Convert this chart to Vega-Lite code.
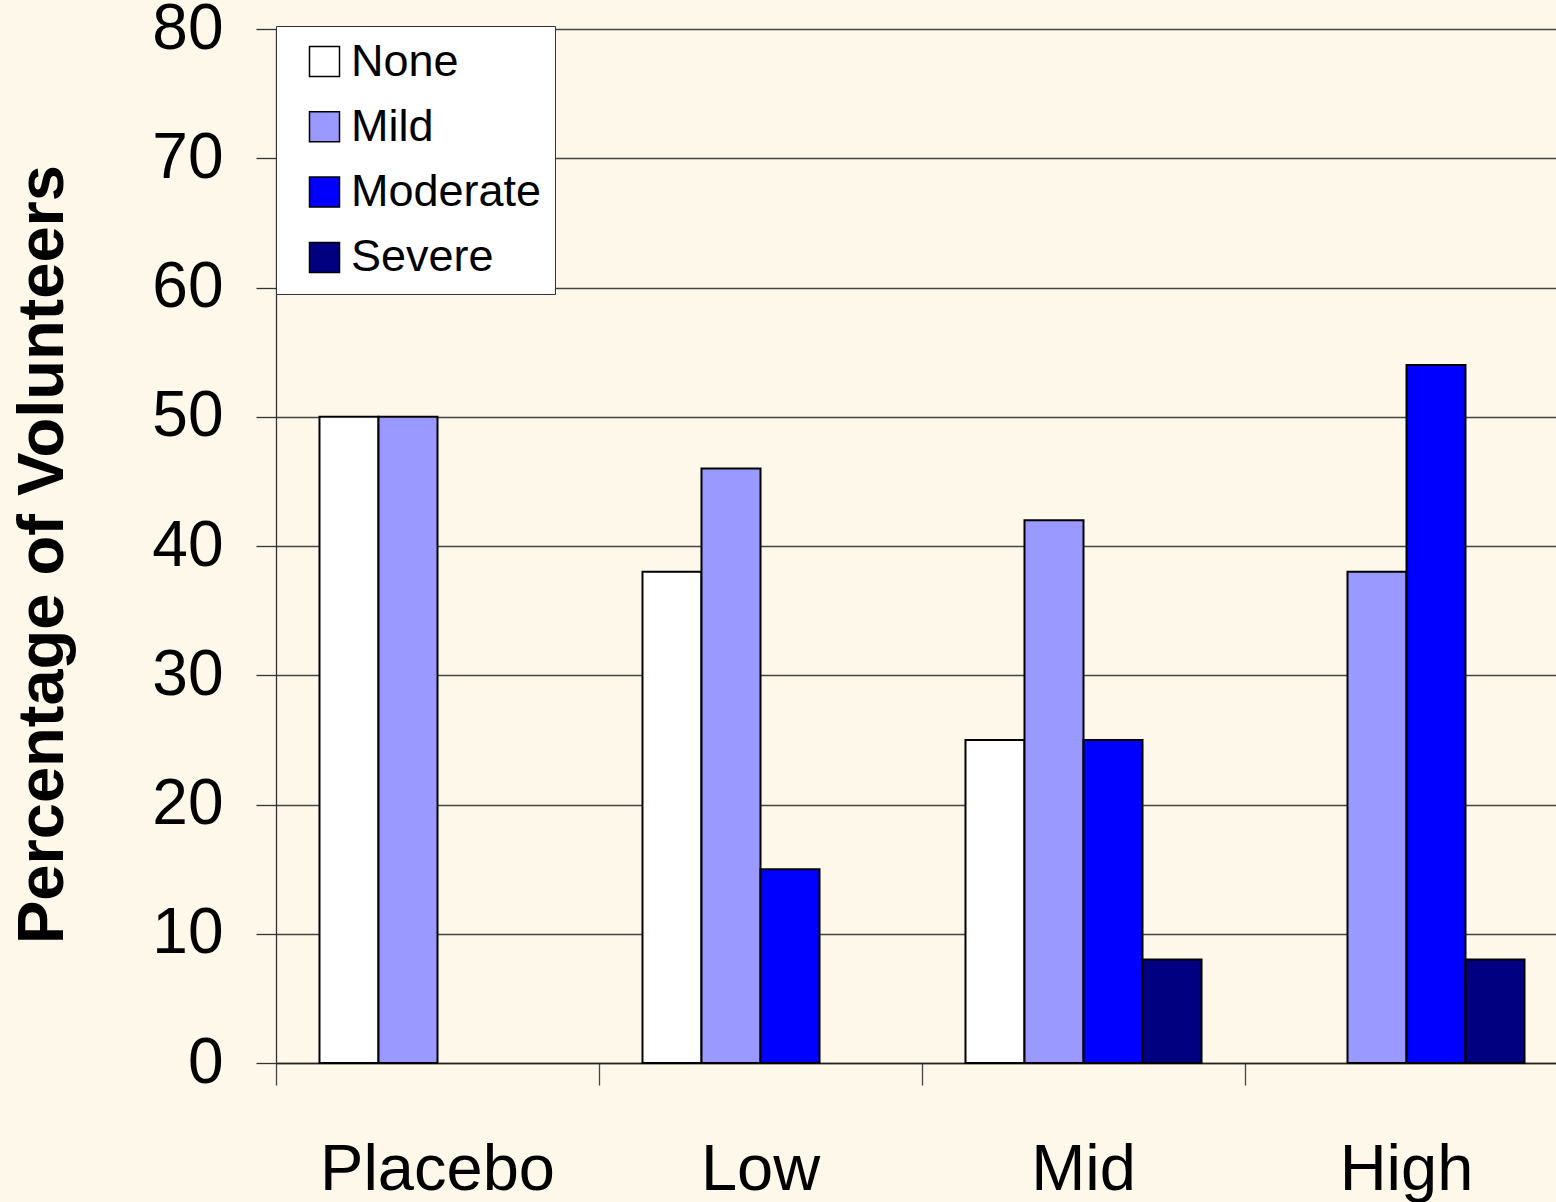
{
  "$schema": "https://vega.github.io/schema/vega-lite/v6.json",
  "width": 1280,
  "height": 1034,
  "autosize": "none",
  "padding": {"left": 276, "top": 29, "right": 0, "bottom": 139},
  "background": "#FEF8EA",
  "config": {"view": {"stroke": null}, "font": "Liberation Sans"},
  "data": {"values": [
    {"dose": "Placebo", "severity": "None", "pct": 50},
    {"dose": "Placebo", "severity": "Mild", "pct": 50},
    {"dose": "Low", "severity": "None", "pct": 38},
    {"dose": "Low", "severity": "Mild", "pct": 46},
    {"dose": "Low", "severity": "Moderate", "pct": 15},
    {"dose": "Mid", "severity": "None", "pct": 25},
    {"dose": "Mid", "severity": "Mild", "pct": 42},
    {"dose": "Mid", "severity": "Moderate", "pct": 25},
    {"dose": "Mid", "severity": "Severe", "pct": 8},
    {"dose": "High", "severity": "Mild", "pct": 38},
    {"dose": "High", "severity": "Moderate", "pct": 54},
    {"dose": "High", "severity": "Severe", "pct": 8}
  ]},
  "mark": {"type": "bar", "stroke": "black", "strokeWidth": 2},
  "encoding": {
    "x": {
      "field": "dose", "type": "nominal",
      "sort": ["Placebo", "Low", "Mid", "High"],
      "scale": {"domain": ["Placebo", "Low", "Mid", "High"], "range": [0, 1292], "paddingInner": 0, "paddingOuter": 0},
      "axis": {
        "title": null,
        "bandPosition": 0,
        "labelAngle": 0,
        "labelFontSize": 65,
        "labelColor": "black",
        "labelBaseline": "alphabetic",
        "labelPadding": 104,
        "labelOverlap": false,
        "labelBound": false,
        "labelLimit": 500,
        "tickSize": 22,
        "tickColor": "#444",
        "tickWidth": 1.3,
        "domain": true,
        "domainColor": "#222",
        "domainWidth": 1.5,
        "grid": false
      }
    },
    "xOffset": {
      "field": "severity", "type": "nominal",
      "sort": ["None", "Mild", "Moderate", "Severe"],
      "scale": {"domain": ["None", "Mild", "Moderate", "Severe"], "paddingInner": 0, "paddingOuter": 0.737}
    },
    "y": {
      "field": "pct", "type": "quantitative",
      "scale": {"domain": [0, 80], "nice": false},
      "axis": {
        "title": "Percentage of Volunteers",
        "titleFontSize": 65,
        "titleFontWeight": "bold",
        "titleColor": "black",
        "titleX": -214,
        "titleY": 525,
        "titleAngle": 270,
        "titleAlign": "center",
        "titleBaseline": "alphabetic",
        "values": [0, 10, 20, 30, 40, 50, 60, 70, 80],
        "labelFontSize": 64,
        "labelColor": "black",
        "labelPadding": 33,
        "tickSize": 20,
        "tickColor": "#333",
        "tickWidth": 1.3,
        "domain": true,
        "domainColor": "#333",
        "domainWidth": 1.3,
        "grid": true,
        "gridColor": "#444",
        "gridWidth": 1.3,
        "gridOpacity": 1
      }
    },
    "color": {
      "field": "severity", "type": "nominal",
      "sort": ["None", "Mild", "Moderate", "Severe"],
      "scale": {"domain": ["None", "Mild", "Moderate", "Severe"], "range": ["#FFFFFF", "#9999FF", "#0000FF", "#000080"]},
      "legend": {
        "title": null,
        "orient": "none",
        "legendX": 0,
        "legendY": -3,
        "fillColor": "white",
        "strokeColor": "#333",
        "padding": 13,
        "symbolOffset": 13,
        "symbolType": "square",
        "symbolSize": 900,
        "symbolStrokeColor": "black",
        "symbolStrokeWidth": 1.5,
        "symbolOpacity": 1,
        "labelFontSize": 45,
        "labelColor": "black",
        "labelOffset": 4,
        "labelLimit": 400,
        "rowPadding": 19.3
      }
    }
  }
}
